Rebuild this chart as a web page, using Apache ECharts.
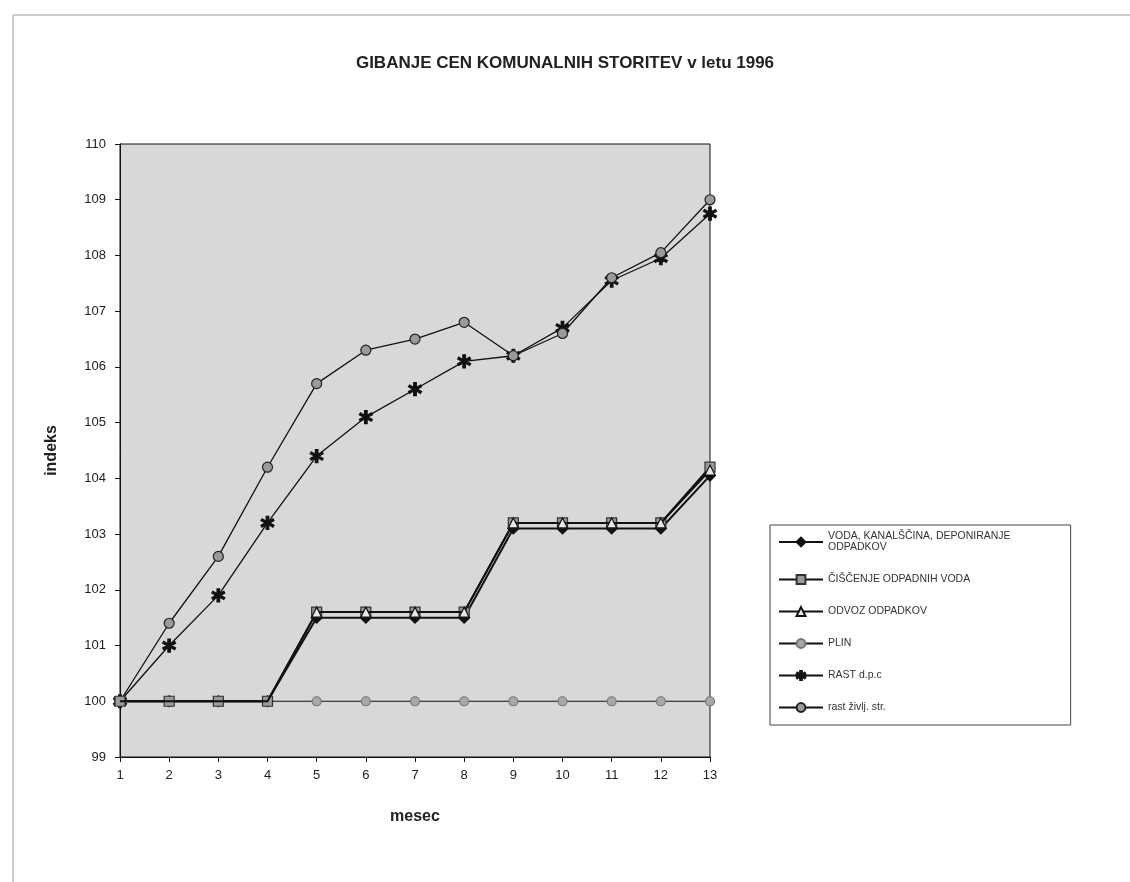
<!DOCTYPE html>
<html>
<head>
  <meta charset="utf-8">
  <title>GIBANJE CEN KOMUNALNIH STORITEV v letu 1996</title>
  <script src="https://cdn.jsdelivr.net/npm/echarts@6/dist/echarts.min.js"></script>
  <style>
    html, body { margin: 0; padding: 0; background: #fff; }
  </style>
</head>
<body>
  <div id="main" style="width: 1130px; height: 882px;"></div>

  <script>
    // meseci (os x)
    var months = ['1', '2', '3', '4', '5', '6', '7', '8', '9', '10', '11', '12', '13'];

    // indeksi po serijah, odčitani s slike
    var voda     = [100, 100, 100, 100, 101.5, 101.5, 101.5, 101.5, 103.1, 103.1, 103.1, 103.1, 104.05];
    var ciscenje = [100, 100, 100, 100, 101.6, 101.6, 101.6, 101.6, 103.2, 103.2, 103.2, 103.2, 104.2];
    var odvoz    = [100, 100, 100, 100, 101.6, 101.6, 101.6, 101.6, 103.2, 103.2, 103.2, 103.2, 104.15];
    var plin     = [100, 100, 100, 100, 100, 100, 100, 100, 100, 100, 100, 100, 100];
    var rastDpc  = [100, 101.0, 101.9, 103.2, 104.4, 105.1, 105.6, 106.1, 106.2, 106.7, 107.55, 107.95, 108.75];
    var rastZiv  = [100, 101.4, 102.6, 104.2, 105.7, 106.3, 106.5, 106.8, 106.2, 106.6, 107.6, 108.05, 109.0];

    var seriesNames = [
      'VODA, KANALŠČINA, DEPONIRANJE\nODPADKOV',
      'ČIŠČENJE ODPADNIH VODA',
      'ODVOZ ODPADKOV',
      'PLIN',
      'RAST d.p.c',
      'rast življ. str.'
    ];

    var asterisk = 'path://M4,0 L6,0 L6,3.6 L9.2,1.8 L10,3.2 L6.8,5 L10,6.8 L9.2,8.2 L6,6.4 L6,10 L4,10 L4,6.4 L0.8,8.2 L0,6.8 L3.2,5 L0,3.2 L0.8,1.8 L4,3.6 Z';

    var chartDom = document.getElementById('main');
    var myChart = echarts.init(chartDom);

    function lineSeries(name, data, symbol, size, fill, border, width, z) {
      return {
        name: name,
        type: 'line',
        data: data,
        symbol: symbol,
        symbolSize: size,
        showAllSymbol: true,
        z: z,
        lineStyle: { color: '#111', width: width },
        itemStyle: { color: fill, borderColor: border, borderWidth: 1.2 },
        emphasis: { disabled: true },
        animation: false
      };
    }

    // trikotniki so v prvih štirih mesecih prekriti s kvadratki
    var odvozData = odvoz.map(function (v, i) {
      return i < 4 ? { value: v, symbol: 'none' } : v;
    });

    var option = {
      backgroundColor: '#fff',
      textStyle: { fontFamily: 'Liberation Sans, Arial, sans-serif', color: '#222' },
      title: {
        text: 'GIBANJE CEN KOMUNALNIH STORITEV v letu 1996',
        left: 'center',
        top: 50,
        textStyle: { fontSize: 17, fontWeight: 'bold', color: '#222' }
      },
      graphic: [
        {
          type: 'rect',
          shape: { x: 13, y: 15, width: 1140, height: 900 },
          style: { fill: 'none', stroke: '#999', lineWidth: 1 },
          silent: true
        }
      ],
      legend: {
        orient: 'vertical',
        left: 770,
        top: 525,
        padding: [6, 60, 12, 8],
        itemGap: 21,
        itemWidth: 44,
        itemHeight: 11,
        borderColor: '#444',
        borderWidth: 1,
        backgroundColor: '#fff',
        selectedMode: false,
        textStyle: { fontSize: 10.5, color: '#333', lineHeight: 11 },
        data: seriesNames
      },
      grid: {
        left: 120,
        right: 420,
        top: 144,
        bottom: 125,
        show: true,
        backgroundColor: '#d8d8d8',
        borderColor: '#111',
        borderWidth: 1
      },
      xAxis: {
        type: 'category',
        data: months,
        boundaryGap: false,
        name: 'mesec',
        nameLocation: 'middle',
        nameGap: 52,
        nameTextStyle: { fontSize: 16, fontWeight: 'bold', color: '#222' },
        axisLine: { lineStyle: { color: '#111' } },
        axisTick: { show: true, alignWithLabel: true, length: 5, lineStyle: { color: '#111' } },
        axisLabel: { fontSize: 13, color: '#222', margin: 12 },
        splitLine: { show: false }
      },
      yAxis: {
        type: 'value',
        min: 99,
        max: 110,
        interval: 1,
        name: 'indeks',
        nameLocation: 'middle',
        nameRotate: 90,
        nameGap: 60,
        nameTextStyle: { fontSize: 16, fontWeight: 'bold', color: '#222' },
        axisLine: { show: true, lineStyle: { color: '#111' } },
        axisTick: { show: true, length: 5, lineStyle: { color: '#111' } },
        axisLabel: { fontSize: 13, color: '#222', margin: 14 },
        splitLine: { show: false }
      },
      series: [
        lineSeries(seriesNames[0], voda, 'diamond', 11, '#111', '#111', 2, 4),
        lineSeries(seriesNames[1], ciscenje, 'rect', 10, '#9a9a9a', '#333', 2, 5),
        lineSeries(seriesNames[2], odvozData, 'triangle', 10, '#e8e8e8', '#111', 2, 7),
        lineSeries(seriesNames[3], plin, 'circle', 9, '#a8a8a8', '#777', 1.2, 3),
        lineSeries(seriesNames[4], rastDpc, asterisk, 13, '#111', '#111', 1.3, 4),
        lineSeries(seriesNames[5], rastZiv, 'circle', 10, '#9a9a9a', '#222', 1.3, 4)
      ]
    };

    option && myChart.setOption(option);
  </script>
</body>
</html>
